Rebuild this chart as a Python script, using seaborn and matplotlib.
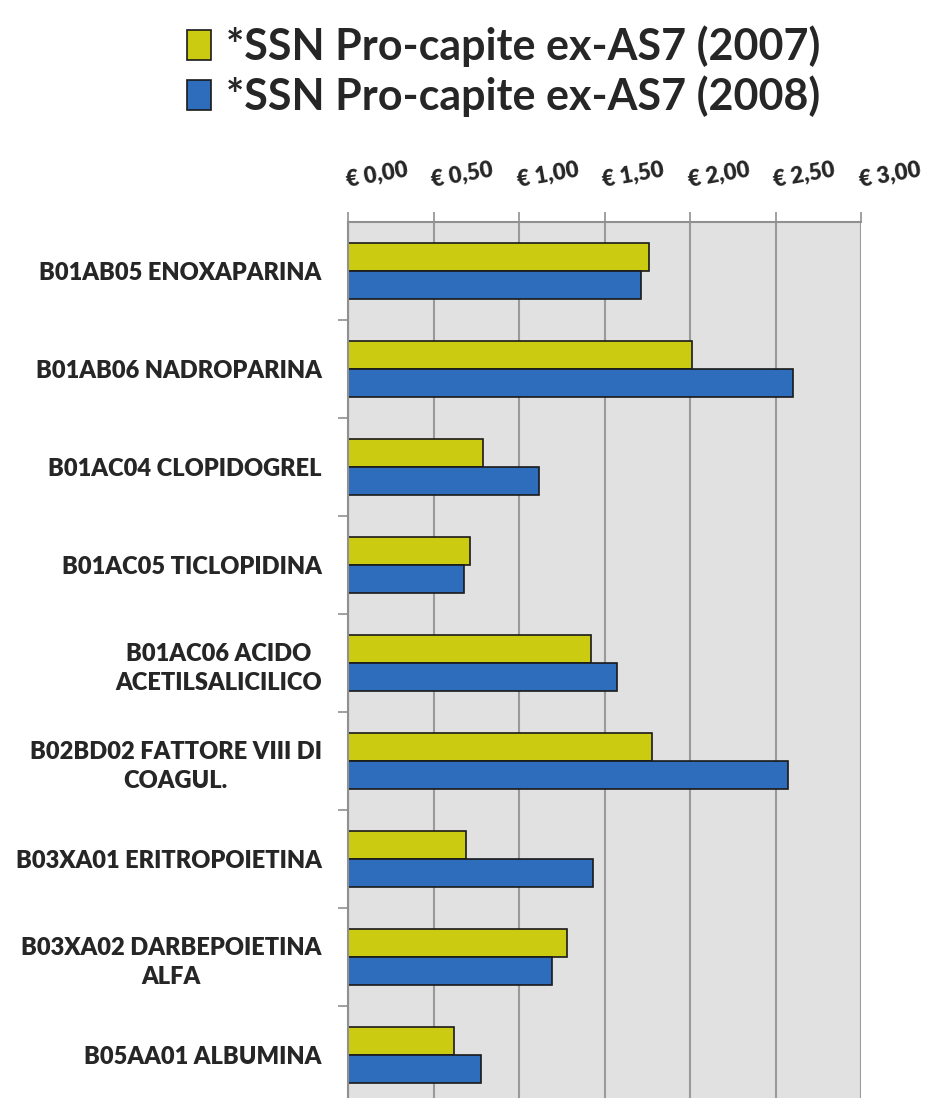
import matplotlib
matplotlib.use("Agg")
import matplotlib.pyplot as plt
import matplotlib.ticker as mticker
import seaborn as sns
import pandas as pd
import numpy as np

categories = [
    "B01AB05 ENOXAPARINA",
    "B01AB06 NADROPARINA",
    "B01AC04 CLOPIDOGREL",
    "B01AC05 TICLOPIDINA",
    "B01AC06 ACIDO\nACETILSALICILICO",
    "B02BD02 FATTORE VIII DI\nCOAGUL.",
    "B03XA01 ERITROPOIETINA",
    "B03XA02 DARBEPOIETINA\nALFA",
    "B05AA01 ALBUMINA",
]
series_names = ["*SSN Pro-capite ex-AS7 (2007)", "*SSN Pro-capite ex-AS7 (2008)"]
values_2007 = [1.76, 2.01, 0.79, 0.715, 1.42, 1.78, 0.69, 1.28, 0.62]
values_2008 = [1.71, 2.60, 1.115, 0.68, 1.57, 2.575, 1.43, 1.195, 0.775]
xticks = [0.0, 0.5, 1.0, 1.5, 2.0, 2.5, 3.0]
xtick_labels = ["€ 0,00", "€ 0,50", "€ 1,00", "€ 1,50", "€ 2,00", "€ 2,50", "€ 3,00"]
colors = ["#CBCB12", "#2E6DBB"]

df = pd.DataFrame({
    "categoria": categories * 2,
    "valore": values_2007 + values_2008,
    "serie": [series_names[0]] * len(categories) + [series_names[1]] * len(categories),
})

sns.set_theme(style="white")
plt.rcParams["font.family"] = ["Lato", "DejaVu Sans"]

fig = plt.figure(figsize=(9.28, 10.98), dpi=100)
ax = fig.add_axes([0.375, -0.0055, 0.553, 0.8035])

sns.barplot(data=df, y="categoria", x="valore", hue="serie", orient="h",
            palette=colors, width=0.57, ax=ax, edgecolor="#1a1a1a",
            linewidth=1.2, saturation=1, legend=True)

ax.set_facecolor("#E1E1E1")
ax.set_xlim(0, 3.0)
ax.set_ylim(len(categories) - 0.5, -0.5)
ax.xaxis.tick_top()
ax.set_xticks(xticks)
ax.set_xticklabels(xtick_labels, rotation=10, fontsize=16, fontweight="heavy",
                   ha="left", va="bottom", rotation_mode="anchor")
ax.tick_params(axis="x", which="major", top=True, length=7, width=1.2,
               color="#909090", pad=15)
ax.grid(axis="x", color="#9A9A9A", linewidth=1.5)
ax.set_axisbelow(True)

ax.set_yticks(range(len(categories)))
ax.set_yticklabels(categories, fontsize=17, fontweight="heavy",
                   ha="right", multialignment="center", linespacing=1.4)
ax.tick_params(axis="y", which="major", left=False, length=0, pad=19)
ax.yaxis.set_minor_locator(mticker.FixedLocator(np.arange(0.5, len(categories) - 0.5, 1)))
ax.tick_params(axis="y", which="minor", left=True, length=7, width=1.2, color="#909090")

ax.set_xlabel("")
ax.set_ylabel("")
for side in ["right", "bottom"]:
    ax.spines[side].set_visible(False)
ax.spines["top"].set_color("#909090")
ax.spines["top"].set_linewidth(1.5)
ax.spines["left"].set_color("#909090")
ax.spines["left"].set_linewidth(1.5)

handles, labels = ax.get_legend_handles_labels()
ax.get_legend().remove()
fig.legend(handles, labels, loc="upper center", bbox_to_anchor=(0.543, 1.012),
           frameon=False, prop={"size": 31, "weight": "bold"},
           handlelength=0.55, handleheight=0.7,
           handletextpad=0.35, labelspacing=0.2)

fig.savefig("out.png", dpi=100)
